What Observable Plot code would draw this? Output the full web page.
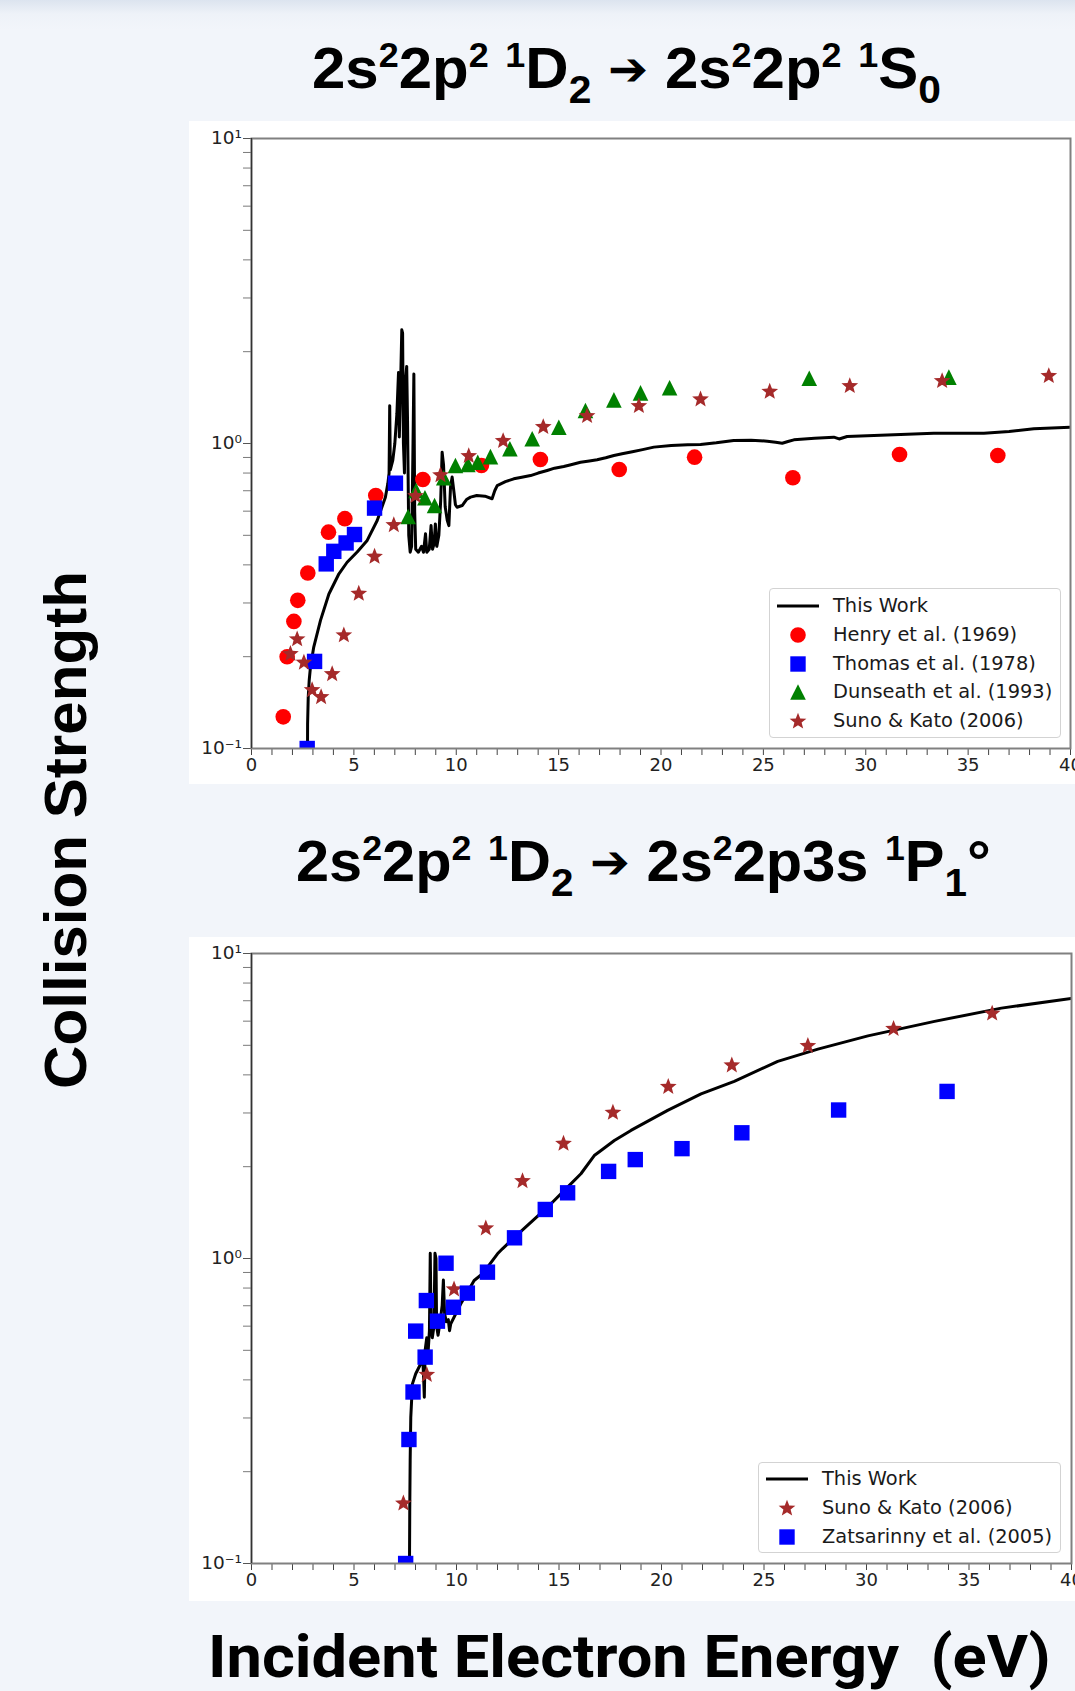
<!DOCTYPE html>
<html><head><meta charset="utf-8">
<script src="https://cdn.jsdelivr.net/npm/d3@7"></script>
<script src="https://cdn.jsdelivr.net/npm/@observablehq/plot@0.6"></script>
<style>
html,body{margin:0;padding:0;overflow:hidden;background:#f2f5fa;}
#page{position:relative;width:1075px;height:1691px;overflow:hidden;
  background:linear-gradient(to bottom,#dce4ef 0px,#eef2f8 14px,#f2f5fa 30px,#f2f5fa 100%);}
.legend{position:absolute;border:1px solid #d3d3d3;border-radius:4px;background:rgba(255,255,255,0.85);
  font-family:"DejaVu Sans",sans-serif;font-size:19.4px;color:#1a1a1a;box-sizing:border-box;}
.legend .row{position:absolute;left:0;height:24px;line-height:24px;white-space:pre;}
.legend .row svg{position:absolute;left:0;top:0;}
.legend .row span{position:absolute;left:63px;top:0;}
#overlay{position:absolute;left:0;top:0;pointer-events:none;}
</style></head>
<body><div id="page"></div>
<script>
// ---------------- data ----------------
// Panel 1: 2s2 2p2 1D2 -> 2s2 2p2 1S0
const topLineE = [2.73,2.74,2.77,2.82,2.88,3.04,3.37,3.78,4.27,4.67,5.16,5.65,6.14,6.54,6.66,6.72,6.75,6.78,6.90,7.00,7.10,7.18,7.22,7.28,7.34,7.38,7.42,7.47,7.52,7.58,7.62,7.68,7.75,7.82,7.88,7.93,7.97,8.02,8.15,8.30,8.40,8.50,8.56,8.68,8.77,8.84,8.92,8.98,9.05,9.15,9.24,9.31,9.38,9.46,9.56,9.64,9.72,9.80,9.88,9.96,10.04,10.29,10.50,10.70,11.00,11.40,11.75,11.88,12.00,12.40,12.81,13.20,13.63,14.00,14.44,14.80,15.25,15.60,16.07,16.50,16.88,17.30,17.70,18.10,18.60,19.10,19.65,20.50,21.30,21.93,22.70,23.55,24.40,25.19,25.60,25.92,26.20,26.49,27.50,28.44,28.70,29.09,30.40,31.70,33.32,35.77,37.00,38.21,40.00];
const topLineV = [0.08,0.12,0.147,0.168,0.185,0.215,0.263,0.321,0.374,0.408,0.441,0.481,0.559,0.667,0.74,0.80,1.33,0.82,0.88,1.00,1.25,1.71,1.05,1.55,2.36,2.30,1.00,0.80,1.60,1.79,1.20,0.50,0.44,0.46,0.90,1.69,0.60,0.45,0.44,0.46,0.44,0.506,0.44,0.45,0.538,0.45,0.47,0.545,0.46,0.50,0.65,0.936,0.85,0.62,0.56,0.538,0.72,0.776,0.70,0.63,0.618,0.626,0.655,0.667,0.675,0.672,0.659,0.70,0.728,0.750,0.766,0.775,0.785,0.800,0.816,0.830,0.841,0.852,0.868,0.876,0.884,0.898,0.913,0.925,0.940,0.955,0.973,0.985,0.990,0.992,1.005,1.023,1.025,1.018,1.010,1.002,1.015,1.028,1.040,1.049,1.035,1.054,1.062,1.070,1.081,1.081,1.095,1.117,1.131];

const henryE = [1.55,1.74,2.07,2.26,2.75,3.76,4.56,6.07,8.37,11.23,14.11,17.96,21.64,26.44,31.65,36.45];
const henryV = [0.127,0.200,0.261,0.306,0.376,0.512,0.567,0.675,0.762,0.847,0.886,0.822,0.902,0.772,0.920,0.913];

const thomasE = [2.72,3.08,3.65,4.02,4.62,5.03,6.01,7.03];
const thomasV = [0.100,0.193,0.403,0.443,0.472,0.503,0.614,0.741];

const dunseathE = [7.65,8.04,8.47,8.94,9.39,9.96,10.57,11.05,11.67,12.62,13.71,15.01,16.31,17.70,19.00,20.42,27.24,34.06];
const dunseathV = [0.576,0.701,0.664,0.626,0.772,0.847,0.853,0.868,0.906,0.961,1.036,1.131,1.283,1.390,1.466,1.523,1.637,1.650];

const sunoTopE = [1.90,2.23,2.56,2.96,3.40,3.94,4.51,5.24,6.01,6.95,8.01,9.23,10.61,12.29,14.25,16.39,18.92,21.93,25.31,29.22,33.73,38.94];
const sunoTopV = [0.205,0.229,0.192,0.156,0.148,0.176,0.236,0.323,0.427,0.542,0.675,0.790,0.913,1.023,1.137,1.235,1.332,1.401,1.484,1.549,1.609,1.671];

// Panel 2: 2s2 2p2 1D2 -> 2s2 2p3s 1P1o
const botLineE = [7.70,7.72,7.74,7.77,7.85,8.01,8.25,8.35,8.40,8.43,8.47,8.55,8.62,8.68,8.72,8.76,8.82,8.90,8.95,9.00,9.03,9.10,9.20,9.30,9.36,9.42,9.50,9.60,9.66,9.72,10.21,10.86,11.27,12.00,12.24,12.81,14.44,15.42,16.07,16.72,17.05,17.70,18.51,20.30,21.93,23.55,25.67,27.63,30.07,33.32,36.58,40.00];
const botLineV = [0.08,0.15,0.218,0.302,0.388,0.419,0.451,0.48,0.40,0.351,0.50,0.55,0.50,0.58,1.04,0.60,0.55,0.60,1.04,1.00,0.60,0.56,0.62,0.70,0.85,0.66,0.62,0.63,0.58,0.611,0.71,0.847,0.891,1.036,1.076,1.17,1.473,1.714,1.896,2.176,2.26,2.436,2.63,3.06,3.465,3.81,4.43,4.86,5.37,5.99,6.62,7.12];

const sunoBotE = [7.41,8.55,9.88,11.43,13.22,15.22,17.63,20.33,23.43,27.14,31.32,36.13];
const sunoBotV = [0.158,0.417,0.795,1.26,1.80,2.388,3.018,3.667,4.313,4.996,5.683,6.38];

const zatsE = [7.52,7.68,7.88,8.01,8.47,8.53,9.07,9.49,9.85,10.53,11.51,12.83,14.33,15.42,17.42,18.72,21.00,23.92,28.64,33.93];
const zatsV = [0.100,0.255,0.365,0.578,0.475,0.728,0.623,0.965,0.692,0.770,0.902,1.169,1.448,1.642,1.930,2.110,2.292,2.583,3.068,3.530];

// ticks
const xTicks = [0,1,2,3,4,5,6,7,8,9,10,11,12,13,14,15,16,17,18,19,20,21,22,23,24,25,26,27,28,29,30,31,32,33,34,35,36,37,38,39,40];
const xLabeled = [0,5,10,15,20,25,30,35,40];
const yMajor = [0.1,1,10];
const yMajorLabels = ["10\u207B\u00B9","10\u2070","10\u00B9"];
const yMinor = [0.2,0.3,0.4,0.5,0.6,0.7,0.8,0.9,2,3,4,5,6,7,8,9];

const legendTop = ["This Work","Henry et al. (1969)","Thomas et al. (1978)","Dunseath et al. (1993)","Suno & Kato (2006)"];
const legendBot = ["This Work","Suno & Kato (2006)","Zatsarinny et al. (2005)"];

// ---------------- helpers ----------------
const zip = (E, V) => E.map((e, i) => ({e, v: V[i]}));
const symSquare = {draw(ctx, size){const h=Math.sqrt(size/Math.PI); ctx.rect(-h,-h,2*h,2*h);}};
const symTri = {draw(ctx, size){const h=Math.sqrt(size/Math.PI); ctx.moveTo(0,-h); ctx.lineTo(h,h); ctx.lineTo(-h,h); ctx.closePath();}};
const symStar = {draw(ctx, size){const R=Math.sqrt(size/Math.PI), r=R*0.43;
  for(let i=0;i<10;i++){const a=-Math.PI/2+i*Math.PI/5, rr=i%2?r:R, x=rr*Math.cos(a), y=rr*Math.sin(a)+R*0.05; if(i) ctx.lineTo(x,y); else ctx.moveTo(x,y);} ctx.closePath();}};
const symCircle = d3.symbolCircle;

const RED="#ff0000", BLUE="#0000ff", GREEN="#008000", BROWN="#a52a2a";
const sizes = {circle:7.8, square:7.7, tri:7.8, star:8.8};

function panel({line, dots, height, marginTop, marginBottom, marginRight}) {
  return Plot.plot({
    width: 886, height, marginLeft: 62, marginRight, marginTop, marginBottom,
    style: {background: "white", fontFamily: "DejaVu Sans, sans-serif", overflow: "visible", color: "#222"},
    x: {domain: [0, 40]},
    y: {type: "log", domain: [0.1, 10]},
    marks: [
      Plot.axisX(xTicks, {tickSize: 7, tickPadding: 3, fontSize: 18, stroke: "#444", fill: "#222",
        tickFormat: d => xLabeled.includes(d) ? String(d) : "", label: null}),
      Plot.axisY(yMinor, {tickSize: 8, stroke: "#7a7a7a", tickFormat: () => "", label: null}),
      Plot.axisY(yMajor, {tickSize: 8, tickPadding: 1.5, fontSize: 18.5, stroke: "#555", fill: "#222",
        tickFormat: d => yMajorLabels[yMajor.indexOf(d)], label: null}),
      Plot.line(line, {x: "e", y: "v", stroke: "black", strokeWidth: 3, clip: true, strokeLinejoin: "round"}),
      ...dots,
      Plot.frame({stroke: "#808080", strokeWidth: 2}),
      Plot.ruleX([0], {stroke: "#333", strokeWidth: 1.3})
    ]
  });
}
function dot(data, symbol, r, fill) {
  return Plot.dot(data, {x: "e", y: "v", symbol, r, fill, stroke: "none", clip: true});
}

const page = document.getElementById("page");

const p1 = panel({
  line: zip(topLineE, topLineV), height: 663, marginTop: 17, marginBottom: 36, marginRight: 5,
  dots: [
    dot(zip(henryE, henryV), symCircle, sizes.circle, RED),
    dot(zip(thomasE, thomasV), symSquare, sizes.square, BLUE),
    dot(zip(dunseathE, dunseathV), symTri, sizes.tri, GREEN),
    dot(zip(sunoTopE, sunoTopV), symStar, sizes.star, BROWN)
  ]
});
Object.assign(p1.style, {position: "absolute", left: "189px", top: "121px"});
page.appendChild(p1);

const p2 = panel({
  line: zip(botLineE, botLineV), height: 664, marginTop: 16, marginBottom: 38, marginRight: 4,
  dots: [
    dot(zip(sunoBotE, sunoBotV), symStar, sizes.star, BROWN),
    dot(zip(zatsE, zatsV), symSquare, sizes.square, BLUE)
  ]
});
Object.assign(p2.style, {position: "absolute", left: "189px", top: "937px"});
page.appendChild(p2);

// ---------------- legends ----------------
function legend({left, top, width, height, first, step, items}) {
  const box = d3.select(page).append("div").attr("class", "legend")
    .style("left", left + "px").style("top", top + "px").style("width", width + "px").style("height", height + "px");
  items.forEach((it, i) => {
    const cy = first + step * i;
    const row = box.append("div").attr("class", "row").style("top", (cy - 12) + "px").style("width", width + "px");
    const s = row.append("svg").attr("width", 60).attr("height", 24);
    if (it.kind === "line") {
      s.append("line").attr("x1", 7).attr("x2", 49).attr("y1", 12).attr("y2", 12).attr("stroke", "black").attr("stroke-width", 3);
    } else {
      const r = sizes[it.kind];
      const sym = {circle: symCircle, square: symSquare, tri: symTri, star: symStar}[it.kind];
      s.append("path").attr("transform", "translate(28,12)").attr("d", d3.symbol(sym, Math.PI * r * r)()).attr("fill", it.color);
    }
    row.append("span").text(it.label);
  });
}
legend({left: 769, top: 588, width: 292, height: 150, first: 17, step: 28.8, items: [
  {label: legendTop[0], kind: "line"},
  {label: legendTop[1], kind: "circle", color: RED},
  {label: legendTop[2], kind: "square", color: BLUE},
  {label: legendTop[3], kind: "tri", color: GREEN},
  {label: legendTop[4], kind: "star", color: BROWN}
]});
legend({left: 758, top: 1462, width: 303, height: 91, first: 16, step: 29, items: [
  {label: legendBot[0], kind: "line"},
  {label: legendBot[1], kind: "star", color: BROWN},
  {label: legendBot[2], kind: "square", color: BLUE}
]});

// ---------------- titles & axis labels ----------------
const ov = d3.select(page).append("svg").attr("id", "overlay").attr("width", 1075).attr("height", 1691);

function richTitle(parts, x0, baseline, size, target) {
  const t = ov.append("text").attr("x", x0).attr("y", baseline)
    .attr("font-family", "Liberation Sans, Arial, sans-serif").attr("font-weight", "bold")
    .attr("font-size", size).attr("fill", "#000").style("white-space", "pre");
  let cur = 0;
  for (const [str, kind] of parts) {
    const off = kind === "sup" ? -0.36 * size : kind === "sub" ? 0.26 * size : kind === "arrow" ? -0.05 * size : 0;
    const fs = kind === "sup" ? 0.6 * size : kind === "sub" ? 0.68 * size : kind === "arrow" ? 0.8 * size : size;
    const ts = t.append("tspan").attr("dy", off - cur).attr("font-size", fs).text(str);
    if (kind === "arrow") ts.attr("font-family", "DejaVu Sans, sans-serif").attr("font-weight", "bold");
    cur = off;
  }
  const w = t.node().getBBox().width;
  const k = target / w;
  t.attr("transform", `translate(${x0},0) scale(${k},1) translate(${-x0},0)`);
}
richTitle([["2s","n"],["2","sup"],["2p","n"],["2","sup"],[" ","n"],["1","sup"],["D","n"],["2","sub"],[" \u2794 ","arrow"],["2s","n"],["2","sup"],["2p","n"],["2","sup"],[" ","n"],["1","sup"],["S","n"],["0","sub"]],
  312, 88, 58, 629);
richTitle([["2s","n"],["2","sup"],["2p","n"],["2","sup"],[" ","n"],["1","sup"],["D","n"],["2","sub"],[" \u2794 ","arrow"],["2s","n"],["2","sup"],["2p3s ","n"],["1","sup"],["P","n"],["1","sub"],["\u00B0","n"]],
  296, 881, 58, 695);

// y label
{
  const g = ov.append("g").attr("transform", "translate(86,830) rotate(-90)");
  const t = g.append("text").attr("text-anchor", "middle")
    .attr("font-family", "Liberation Sans, Arial, sans-serif").attr("font-weight", "bold")
    .attr("font-size", 60).attr("fill", "#000").text("Collision Strength");
  const w = t.node().getBBox().width;
  t.attr("transform", `scale(${518 / w},1)`);
}
// x label
{
  const x0 = 208;
  const t = ov.append("text").attr("x", x0).attr("y", 1677)
    .attr("font-family", "Roboto, sans-serif").attr("font-weight", 700)
    .attr("font-size", 60).attr("fill", "#000").style("white-space", "pre").text("Incident Electron Energy  (eV)");
  const w = t.node().getBBox().width;
  const k = 843 / w;
  t.attr("transform", `translate(${x0},0) scale(${k},1) translate(${-x0},0)`);
}
</script></body></html>
